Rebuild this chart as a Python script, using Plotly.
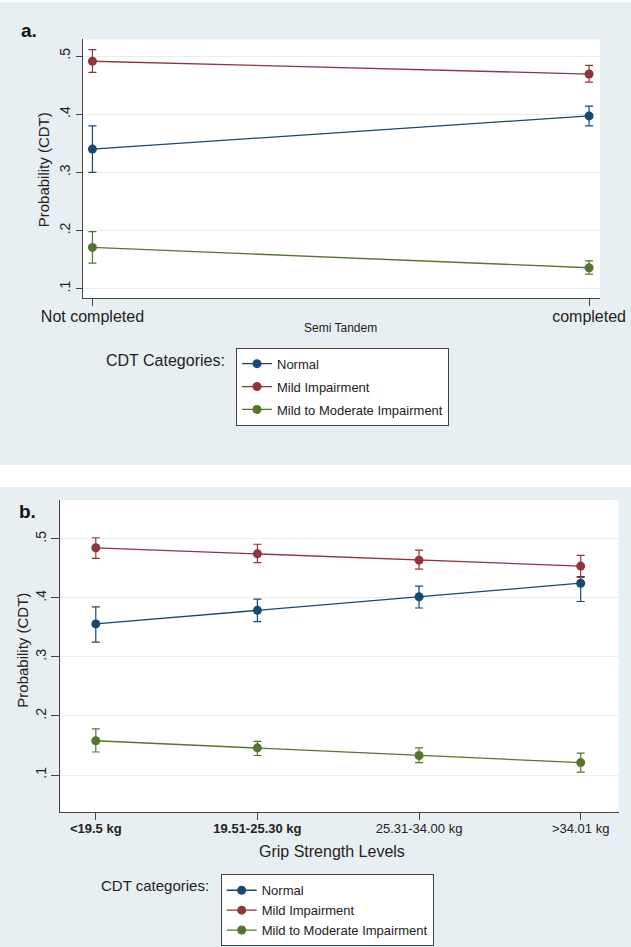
import plotly.graph_objects as go

# ---------------- data ----------------
series_names = ["Normal", "Mild Impairment", "Mild to Moderate Impairment"]

# Panel a: Semi Tandem
tandem_levels = ["Not completed", "completed"]
a_normal = [0.340, 0.397]
a_normal_lo = [0.300, 0.380]
a_normal_hi = [0.380, 0.414]
a_mild = [0.491, 0.469]
a_mild_lo = [0.472, 0.455]
a_mild_hi = [0.511, 0.484]
a_modmild = [0.171, 0.136]
a_modmild_lo = [0.144, 0.125]
a_modmild_hi = [0.198, 0.148]

# Panel b: Grip strength
grip_levels = ["<19.5 kg", "19.51-25.30 kg", "25.31-34.00 kg", ">34.01 kg"]
b_normal = [0.356, 0.379, 0.402, 0.425]
b_normal_lo = [0.325, 0.360, 0.383, 0.394]
b_normal_hi = [0.385, 0.398, 0.420, 0.436]
b_mild = [0.485, 0.475, 0.464, 0.454]
b_mild_lo = [0.467, 0.460, 0.449, 0.435]
b_mild_hi = [0.502, 0.491, 0.481, 0.472]
b_modmild = [0.158, 0.146, 0.133, 0.121]
b_modmild_lo = [0.139, 0.133, 0.121, 0.105]
b_modmild_hi = [0.178, 0.157, 0.146, 0.137]

y_ticks = [0.1, 0.2, 0.3, 0.4, 0.5]
y_ticklabels = [".1", ".2", ".3", ".4", ".5"]

colors = ["#1a476f", "#90353b", "#55752f"]
W, H = 631, 947
FONT = "Liberation Sans, Arial, sans-serif"
BG = "#e8eff2"


def px(x):
    return x / W


def py(y):
    return 1 - y / H


fig = go.Figure()

panel_a = [(a_normal, a_normal_lo, a_normal_hi),
           (a_mild, a_mild_lo, a_mild_hi),
           (a_modmild, a_modmild_lo, a_modmild_hi)]
panel_b = [(b_normal, b_normal_lo, b_normal_hi),
           (b_mild, b_mild_lo, b_mild_hi),
           (b_modmild, b_modmild_lo, b_modmild_hi)]

for i, (m, lo, hi) in enumerate(panel_a):
    fig.add_trace(go.Scatter(
        x=tandem_levels, y=m, mode="lines+markers", name=series_names[i],
        line=dict(color=colors[i], width=1.3),
        marker=dict(color=colors[i], size=9),
        error_y=dict(type="data", symmetric=False,
                     array=[h - v for h, v in zip(hi, m)],
                     arrayminus=[v - l for v, l in zip(m, lo)],
                     color=colors[i], thickness=1.2, width=4),
        xaxis="x", yaxis="y", legend="legend", legendgroup="a%d" % i,
    ))

for i, (m, lo, hi) in enumerate(panel_b):
    fig.add_trace(go.Scatter(
        x=grip_levels, y=m, mode="lines+markers", name=series_names[i],
        line=dict(color=colors[i], width=1.3),
        marker=dict(color=colors[i], size=9),
        error_y=dict(type="data", symmetric=False,
                     array=[h - v for h, v in zip(hi, m)],
                     arrayminus=[v - l for v, l in zip(m, lo)],
                     color=colors[i], thickness=1.2, width=4),
        xaxis="x2", yaxis="y2", legend="legend2", legendgroup="b%d" % i,
    ))

# panel geometry (pixels)
a_l, a_r, a_t, a_b = 83, 600, 39.3, 298.3
b_l, b_r, b_t, b_b = 60.4, 618.5, 500, 812

shapes = [
    dict(type="rect", xref="paper", yref="paper", x0=0, x1=1, y0=py(465), y1=py(2),
         fillcolor=BG, line=dict(width=0), layer="below"),
    dict(type="rect", xref="paper", yref="paper", x0=0, x1=1, y0=0, y1=py(487),
         fillcolor=BG, line=dict(width=0), layer="below"),
    dict(type="rect", xref="paper", yref="paper", x0=px(a_l), x1=px(a_r), y0=py(a_b), y1=py(a_t),
         fillcolor="white", line=dict(width=0), layer="below"),
    dict(type="rect", xref="paper", yref="paper", x0=px(b_l), x1=px(b_r), y0=py(b_b), y1=py(b_t),
         fillcolor="white", line=dict(width=0), layer="below"),
]

axis_common = dict(showline=True, linecolor="#444", linewidth=1, ticks="outside",
                   tickcolor="#444", zeroline=False, mirror=False, automargin=False)

grip_ticktext = ["<b>%s</b>" % g if k < 2 else g for k, g in enumerate(grip_levels)]

fig.update_layout(
    width=W, height=H, margin=dict(l=0, r=0, t=0, b=0, autoexpand=False),
    paper_bgcolor="white", plot_bgcolor="rgba(0,0,0,0)",
    font=dict(family=FONT, color="#222"),
    shapes=shapes,
    xaxis=dict(domain=[px(a_l), px(a_r)], anchor="y", type="category",
               range=[-0.019, 1.022], showgrid=False, ticklen=7, ticklabelstandoff=-4,
               tickfont=dict(size=16, color="#222"), **axis_common),
    yaxis=dict(domain=[py(a_b), py(a_t)], anchor="x", range=[0.0835, 0.5287],
               tickvals=y_ticks, ticktext=y_ticklabels, tickangle=-90, ticklen=6,
               showgrid=True, gridcolor="#e9eff1", gridwidth=1,
               tickfont=dict(size=14, color="#222"), **axis_common),
    xaxis2=dict(domain=[px(b_l), px(b_r)], anchor="y2", type="category",
                range=[-0.219, 3.234], showgrid=False, ticklen=7, ticklabelstandoff=-3,
                tickvals=grip_levels, ticktext=grip_ticktext,
                tickfont=dict(size=13, color="#222"), **axis_common),
    yaxis2=dict(domain=[py(b_b), py(b_t)], anchor="x2", range=[0.0373, 0.566],
                tickvals=y_ticks, ticktext=y_ticklabels, tickangle=-90, ticklen=8,
                showgrid=True, gridcolor="#e9eff1", gridwidth=1,
                tickfont=dict(size=14, color="#222"), **axis_common),
    legend=dict(x=px(236), y=py(347.7), xanchor="left", yanchor="top",
                bgcolor="white", bordercolor="#444", borderwidth=1,
                font=dict(size=13, color="#222"), tracegroupgap=3),
    legend2=dict(x=px(220.7), y=py(874.3), xanchor="left", yanchor="top",
                 bgcolor="white", bordercolor="#444", borderwidth=1,
                 font=dict(size=13, color="#222"), tracegroupgap=0),
    annotations=[
        dict(text="<b>a.</b>", x=px(19), y=py(31), xref="paper", yref="paper",
             xanchor="left", yanchor="middle", showarrow=False, font=dict(size=19, color="#111")),
        dict(text="<b>b.</b>", x=px(17), y=py(511), xref="paper", yref="paper",
             xanchor="left", yanchor="middle", showarrow=False, font=dict(size=19, color="#111")),
        dict(text="Probability (CDT)", x=px(43.3), y=py(170), xref="paper", yref="paper",
             xanchor="center", yanchor="middle", textangle=-90, showarrow=False,
             font=dict(size=15, color="#222")),
        dict(text="Probability (CDT)", x=px(21.7), y=py(650), xref="paper", yref="paper",
             xanchor="center", yanchor="middle", textangle=-90, showarrow=False,
             font=dict(size=15, color="#222")),
        dict(text="Semi Tandem", x=px(340), y=py(328), xref="paper", yref="paper",
             xanchor="center", yanchor="middle", showarrow=False, font=dict(size=12, color="#222")),
        dict(text="Grip Strength Levels", x=px(332), y=py(851.7), xref="paper", yref="paper",
             xanchor="center", yanchor="middle", showarrow=False, font=dict(size=16, color="#222")),
        dict(text="CDT Categories:", x=px(227), y=py(360.7), xref="paper", yref="paper",
             xanchor="right", yanchor="middle", showarrow=False, font=dict(size=16, color="#222")),
        dict(text="CDT categories:", x=px(211), y=py(885), xref="paper", yref="paper",
             xanchor="right", yanchor="middle", showarrow=False, font=dict(size=15, color="#222")),
    ],
)

fig.write_html("out.html")
